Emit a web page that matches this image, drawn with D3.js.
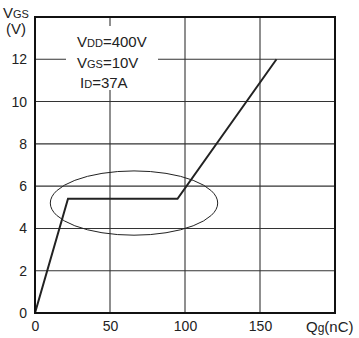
<!DOCTYPE html>
<html><head><meta charset="utf-8">
<script src="https://cdn.jsdelivr.net/npm/d3@7"></script>
<style>body{margin:0;background:#fff}svg{display:block}text{font-family:"Liberation Sans",Arial,sans-serif;fill:#222}</style>
</head><body><svg id="c" width="359" height="338"></svg>
<script>
const qg = [0, 22, 95, 161];
const vgs = [0, 5.4, 5.4, 12];
const xTicks = [0, 50, 100, 150];
const yTicks = [0, 2, 4, 6, 8, 10, 12];
const ellipse = {cx: 66, cy: 5.2, rx: 55.8, ry: 1.52};
const notes = [["V","DD","=400V"],["V","GS","=10V"],["I","D","=37A"]];

const svg = d3.select("#c");
const L = 35, R = 335, T = 17, B = 313;
const x = d3.scaleLinear().domain([0, 200]).range([L, R]);
const y = d3.scaleLinear().domain([0, 14]).range([B, T]);

// grid
svg.append("g").selectAll("line").data(xTicks.filter(d => d > 0)).join("line")
  .attr("x1", d => x(d)).attr("x2", d => x(d)).attr("y1", T).attr("y2", B)
  .attr("stroke", "#333").attr("stroke-width", 1.1);
svg.append("g").selectAll("line").data(yTicks.filter(d => d > 0)).join("line")
  .attr("x1", L).attr("x2", R).attr("y1", d => y(d)).attr("y2", d => y(d))
  .attr("stroke", "#333").attr("stroke-width", 1.1);

// annotation box (white background)
svg.append("rect").attr("x", 66).attr("y", 26).attr("width", 92).attr("height", 64).attr("fill", "#fff");

// ellipse
svg.append("ellipse").attr("cx", x(ellipse.cx)).attr("cy", y(ellipse.cy))
  .attr("rx", x(ellipse.rx) - x(0)).attr("ry", y(0) - y(ellipse.ry))
  .attr("fill", "none").attr("stroke", "#222").attr("stroke-width", 1);

// curve
svg.append("path").datum(qg.map((d, i) => [d, vgs[i]]))
  .attr("d", d3.line().x(d => x(d[0])).y(d => y(d[1])))
  .attr("fill", "none").attr("stroke", "#222").attr("stroke-width", 2);

// frame
svg.append("rect").attr("x", L).attr("y", T).attr("width", R - L).attr("height", B - T)
  .attr("fill", "none").attr("stroke", "#111").attr("stroke-width", 2);

// axes labels
const xa = d3.axisBottom(x).tickValues(xTicks).tickSize(0).tickPadding(8);
const gx = svg.append("g").attr("transform", `translate(0,${B})`).call(xa);
gx.select(".domain").remove();
gx.selectAll("text").attr("font-size", 14).style("font-family", "Liberation Sans, Arial").attr("fill", "#222");
const ya = d3.axisLeft(y).tickValues(yTicks).tickSize(0).tickPadding(8);
const gy = svg.append("g").attr("transform", `translate(${L},0)`).call(ya);
gy.select(".domain").remove();
gy.selectAll("text").attr("font-size", 14).style("font-family", "Liberation Sans, Arial").attr("fill", "#222");

// y title
const yt = svg.append("text").attr("x", 3).attr("y", 18).attr("font-size", 15);
yt.append("tspan").text("V");
yt.append("tspan").attr("font-size", 11).text("GS");
svg.append("text").attr("x", 6).attr("y", 34).attr("font-size", 15).text("(V)");

// x title
const xt = svg.append("text").attr("x", 306).attr("y", 332).attr("font-size", 15);
xt.append("tspan").text("Q");
xt.append("tspan").attr("font-size", 12).text("g");
xt.append("tspan").text("(nC)");

// notes
notes.forEach((n, i) => {
  const t = svg.append("text").attr("x", n[0] === "I" ? 80 : 77).attr("y", 47 + i * 20.5).attr("font-size", 15);
  t.append("tspan").text(n[0]);
  t.append("tspan").attr("font-size", 11).text(n[1]);
  t.append("tspan").text(n[2]);
});
</script></body></html>
